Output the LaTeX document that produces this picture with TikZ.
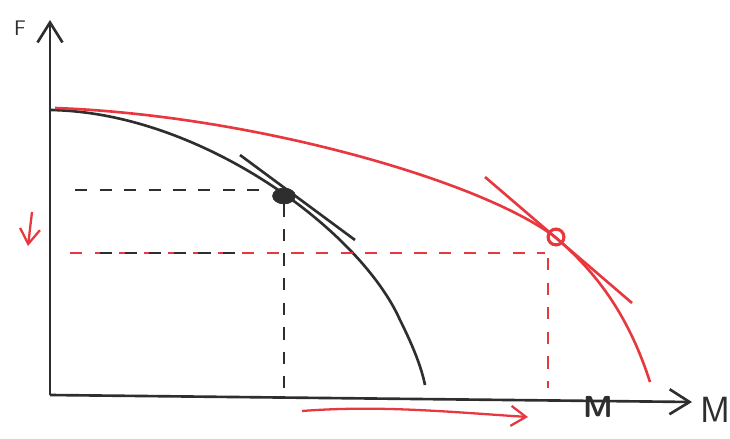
\documentclass[tikz,border=0pt]{standalone}
\usepackage{tikz}
\usetikzlibrary{arrows.meta,positioning,calc,shapes.geometric}
\definecolor{pen}{HTML}{2E2E2E}
\definecolor{redpen}{HTML}{E8383F}
\tikzset{
  axis/.style={draw=pen,line width=1.5pt,-{Straight Barb[length=4mm,width=5mm]}},
  ppf/.style={draw=#1,line width=1.5pt},
  ppf/.default=pen,
  guide/.style={draw=#1,line width=1.2pt,dash pattern=on 7pt off 7pt},
  guide/.default=pen,
  hint/.style={draw=redpen,line width=1.3pt,-{Straight Barb[length=3mm,width=4mm]}},
  lbl/.style={font=\sffamily,text=pen,inner sep=1pt},
}
\begin{document}
\begin{tikzpicture}[x=0.02cm,y=-0.02cm]
  \useasboundingbox (0,0) rectangle (730,439);
  % axes
  \coordinate (o) at (50,395);
  \coordinate (ytop) at (50,20);
  \coordinate (xend) at (692,402);
  \draw[axis] (o) -- (ytop);
  \draw[axis] (o) -- (xend);
  \node[lbl,font=\sffamily\large] (f) at (20,28) {F};
  \node[lbl,font=\sffamily\huge] (m) at (715,410) {M};
  \node[lbl,font=\sffamily\bfseries\LARGE] (mx) at (598,407) {M};
  % black frontier with tangent
  \draw[ppf] (50,110) .. controls (200,112) and (360,230) .. (400,320)
             .. controls (415,350) and (422,370) .. (425,385);
  \coordinate (bt1) at (240,155);
  \coordinate (bt2) at (355,240);
  \draw[ppf] (bt1) -- (bt2);
  \node[draw=pen,fill=pen,ellipse,minimum width=13pt,minimum height=9pt,inner sep=0pt] (bdot) at (284,196) {};
  \coordinate (by) at (75,190);
  \coordinate (bz) at (268,190);
  \coordinate (bx) at (284,388);
  \draw[guide] (by) -- (bz);
  \draw[guide] (bdot.south) -- (bx);
  % red frontier with tangent
  \draw[ppf=redpen] (55,108) .. controls (250,115) and (480,180) .. (555,237)
                    .. controls (600,275) and (630,320) .. (650,382);
  \coordinate (rt1) at (485,177);
  \coordinate (rt2) at (632,303);
  \draw[ppf=redpen] (rt1) -- (rt2);
  \node[draw=redpen,line width=1.8pt,circle,minimum size=9pt,inner sep=0pt] (rdot) at (556,237) {};
  \coordinate (ry) at (70,253);
  \coordinate (rc) at (545,253);
  \coordinate (rx) at (548,388);
  \coordinate (rv) at (548,258);
  \coordinate (bl) at (100,253);
  \coordinate (br) at (240,253);
  \draw[guide=redpen] (ry) -- (rc);
  \draw[guide] (bl) -- (br);
  \draw[guide=redpen] (rv) -- (rx);
  % shift arrows
  \coordinate (d1) at (32,212);
  \coordinate (d2) at (28,246);
  \draw[hint] (d1) -- (d2);
  \coordinate (s1) at (302,411);
  \coordinate (s2) at (528,417);
  \draw[hint] (s1) .. controls (380,405) and (450,412) .. (s2);
\end{tikzpicture}
\end{document}
